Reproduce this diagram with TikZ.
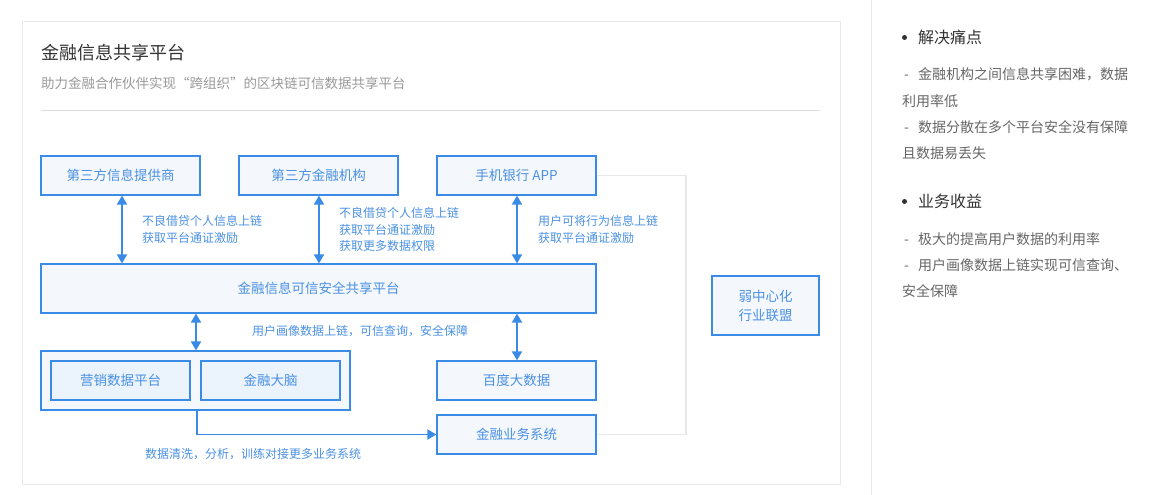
\documentclass[tikz,border=0pt]{standalone}
\usepackage{fontspec}
\setmainfont{Noto Sans CJK SC}
\usetikzlibrary{arrows.meta}
\definecolor{lineblue}{HTML}{3A8BE6}
\definecolor{textblue}{HTML}{4A90E2}
\definecolor{boxfill}{HTML}{F4F8FD}
\definecolor{innerfill}{HTML}{EBF3FD}
\definecolor{framegray}{HTML}{E8E8E8}
\definecolor{rulegray}{HTML}{DDDDDD}
\definecolor{darktext}{HTML}{333333}
\definecolor{softtext}{HTML}{999999}
\definecolor{itemtext}{HTML}{666666}
\newcommand{\itemdash}{\makebox[16pt][l]{\hspace{2pt}-}}
\tikzset{
  box/.style={draw=lineblue,line width=1.2pt,fill=boxfill,text=textblue,
    minimum width=159pt,minimum height=39pt,inner sep=0pt,
    font=\fontsize{13.5}{16}\selectfont},
  innerbox/.style={box,fill=innerfill,minimum width=139pt},
  note/.style={anchor=west,inner sep=0pt,text=textblue,align=left,
    font=\fontsize{12}{16.5}\selectfont},
  dbl/.style={lineblue,line width=1.8pt,{Triangle[width=10pt,length=9pt]}-{Triangle[width=10pt,length=9pt]}},
  flow/.style={lineblue,line width=1.8pt,-{Triangle[width=10pt,length=9pt]}},
  graylink/.style={framegray,line width=1.6pt},
  head/.style={anchor=west,inner sep=0pt,text=darktext,font=\fontsize{16}{18}\selectfont},
  item/.style={anchor=west,inner sep=0pt,text=itemtext,font=\fontsize{14}{16}\selectfont},
}
\begin{document}
\begin{tikzpicture}[x=1pt,y=-1pt]
\useasboundingbox (0,0) rectangle (1162,495);
% frames
\draw[framegray,line width=1pt] (22,22) rectangle (840,484);
\draw[framegray,line width=1pt] (871,0) -- (871,495);
\node[anchor=west,inner sep=0pt,text=darktext,font=\fontsize{18}{20}\selectfont] (title) at (41,53) {金融信息共享平台};
\node[anchor=west,inner sep=0pt,text=softtext,font=\fontsize{13.5}{16}\selectfont] (subtitle) at (41,83) {助力金融合作伙伴实现“跨组织”的区块链可信数据共享平台};
\draw[rulegray,line width=1pt] (41,110) -- (820,110);
% boxes
\node[box] (infoprov) at (120.5,175.5) {第三方信息提供商};
\node[box] (finorg) at (318.5,175.5) {第三方金融机构};
\node[box] (mobapp) at (516.5,175.5) {手机银行 APP};
\node[box,minimum width=555pt,minimum height=49pt] (platform) at (318.5,288.5) {金融信息可信安全共享平台};
\node[box,minimum width=309pt,minimum height=59pt] (group) at (195.5,380.5) {};
\node[innerbox] (mktdata) at (120.5,380.5) {营销数据平台};
\node[innerbox] (finbrain) at (270.5,380.5) {金融大脑};
\node[box] (baidu) at (516.5,380.5) {百度大数据};
\node[box] (bizsys) at (516.5,434.5) {金融业务系统};
\node[box,minimum width=107pt,minimum height=59pt,align=center,
  font=\fontsize{13.5}{19}\selectfont] (alliance) at (765.5,305.5) {弱中心化\\行业联盟};
% links
\draw[dbl] ([xshift=1.5pt]infoprov.south) -- ([xshift=1.5pt]infoprov.south |- platform.north);
\draw[dbl] ([xshift=0.5pt]finorg.south) -- ([xshift=0.5pt]finorg.south |- platform.north);
\draw[dbl] ([xshift=0.5pt]mobapp.south) -- ([xshift=0.5pt]mobapp.south |- platform.north);
\draw[dbl] ([xshift=0.5pt]group.north |- platform.south) -- ([xshift=0.5pt]group.north);
\draw[dbl] ([xshift=0.5pt]baidu.north |- platform.south) -- ([xshift=0.5pt]baidu.north);
\draw[flow] ([xshift=1.5pt]group.south) |- (bizsys.west);
\coordinate (rail) at (686,0);
\draw[graylink] (mobapp.east) -- (mobapp.east -| rail) -- (bizsys.east -| rail) -- (bizsys.east);
% labels
\node[note] (infonote) at (142,229.5) {不良借贷个人信息上链\\获取平台通证激励};
\node[note] (orgnote) at (339,229.5) {不良借贷个人信息上链\\获取平台通证激励\\获取更多数据权限};
\node[note] (appnote) at (538,229.5) {用户可将行为信息上链\\获取平台通证激励};
\node[note] (sharenote) at (252,331) {用户画像数据上链，可信查询，安全保障};
\node[note] (cleannote) at (145,454) {数据清洗，分析，训练对接更多业务系统};
% right panel
\node[circle,fill=darktext,inner sep=0pt,minimum size=5pt] (dotpain) at (904.5,37.5) {};
\node[head] (pain) at (918,37) {解决痛点};
\node[item] (pain1) at (902,74) {\itemdash 金融机构之间信息共享困难，数据};
\node[item] (pain1b) at (902,101) {利用率低};
\node[item] (pain2) at (902,127) {\itemdash 数据分散在多个平台安全没有保障};
\node[item] (pain2b) at (902,153) {且数据易丢失};
\node[circle,fill=darktext,inner sep=0pt,minimum size=5pt] (dotgain) at (904.5,201.5) {};
\node[head] (gain) at (918,201) {业务收益};
\node[item] (gain1) at (902,239) {\itemdash 极大的提高用户数据的利用率};
\node[item] (gain2) at (902,265) {\itemdash 用户画像数据上链实现可信查询、};
\node[item] (gain2b) at (902,291) {安全保障};
\end{tikzpicture}
\end{document}
